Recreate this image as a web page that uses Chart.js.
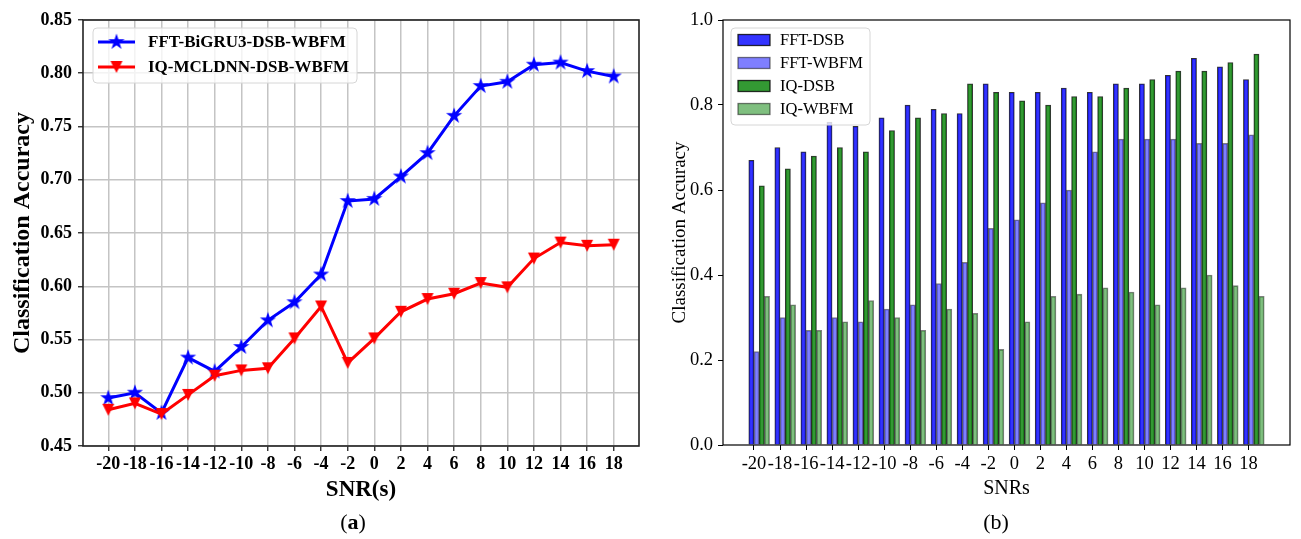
<!DOCTYPE html>
<html>
<head>
<meta charset="utf-8">
<script src="https://cdn.jsdelivr.net/npm/chart.js@4.4.1/dist/chart.umd.min.js"></script>
<style>
  html, body { margin: 0; padding: 0; background: #fff; }
  body { width: 1301px; height: 539px; position: relative; overflow: hidden; }
  .panel { position: absolute; top: 0; height: 539px; }
  #left { left: 0; width: 650px; }
  #right { left: 650px; width: 651px; }
  .caption { position: absolute; top: 509px; font: 22px "Liberation Serif", serif; transform: translateX(-50%); color: #000; }
</style>
</head>
<body>
<div class="panel" id="left"><canvas id="lineChart" width="650" height="539"></canvas></div>
<div class="panel" id="right"><canvas id="barChart" width="651" height="539"></canvas></div>
<div class="caption" style="left:353px">(<b>a</b>)</div>
<div class="caption" style="left:996px">(b)</div>
<script>
const snrs = [-20, -18, -16, -14, -12, -10, -8, -6, -4, -2, 0, 2, 4, 6, 8, 10, 12, 14, 16, 18];

// panel (a)
const fftBigru = [0.495, 0.500, 0.481, 0.533, 0.520, 0.543, 0.568, 0.585, 0.611, 0.680,
                  0.682, 0.703, 0.725, 0.760, 0.788, 0.792, 0.808, 0.810, 0.802, 0.797];
const iqMcldnn = [0.484, 0.490, 0.480, 0.498, 0.516, 0.521, 0.523, 0.551, 0.581, 0.528,
                  0.551, 0.576, 0.588, 0.593, 0.603, 0.599, 0.626, 0.641, 0.638, 0.639];
const lineYTicks = [0.45, 0.50, 0.55, 0.60, 0.65, 0.70, 0.75, 0.80, 0.85];

// panel (b)
const fftDsb  = [0.67, 0.70, 0.69, 0.76, 0.75, 0.77, 0.80, 0.79, 0.78, 0.85,
                 0.83, 0.83, 0.84, 0.83, 0.85, 0.85, 0.87, 0.91, 0.89, 0.86];
const fftWbfm = [0.22, 0.30, 0.27, 0.30, 0.29, 0.32, 0.33, 0.38, 0.43, 0.51,
                 0.53, 0.57, 0.60, 0.69, 0.72, 0.72, 0.72, 0.71, 0.71, 0.73];
const iqDsb   = [0.61, 0.65, 0.68, 0.70, 0.69, 0.74, 0.77, 0.78, 0.85, 0.83,
                 0.81, 0.80, 0.82, 0.82, 0.84, 0.86, 0.88, 0.88, 0.90, 0.92];
const iqWbfm  = [0.35, 0.33, 0.27, 0.29, 0.34, 0.30, 0.27, 0.32, 0.31, 0.225,
                 0.29, 0.35, 0.355, 0.37, 0.36, 0.33, 0.37, 0.40, 0.375, 0.35];
const barYTicks = [0.0, 0.2, 0.4, 0.6, 0.8, 1.0];

const serif = "'Liberation Serif', 'Times New Roman', serif";

// matplotlib-like markers
function starMarker(color, size) {
  const c = document.createElement("canvas");
  c.width = size;
  c.height = size;
  const ctx = c.getContext("2d");
  const r = size / 2 - 0.5;
  const ri = r * 0.382;
  ctx.beginPath();
  for (let i = 0; i < 10; i++) {
    const rad = i % 2 ? ri : r;
    const a = -Math.PI / 2 + (i * Math.PI) / 5;
    const px = size / 2 + rad * Math.cos(a);
    const py = size / 2 + rad * Math.sin(a);
    if (i === 0) ctx.moveTo(px, py);
    else ctx.lineTo(px, py);
  }
  ctx.closePath();
  ctx.fillStyle = color;
  ctx.fill();
  return c;
}

function triangleDownMarker(color, size) {
  const c = document.createElement("canvas");
  c.width = size;
  c.height = size;
  const ctx = c.getContext("2d");
  const m = 1;
  ctx.beginPath();
  ctx.moveTo(m, m);
  ctx.lineTo(size - m, m);
  ctx.lineTo(size / 2, size - m);
  ctx.closePath();
  ctx.fillStyle = color;
  ctx.fill();
  return c;
}

function roundRect(ctx, x, y, w, h, r) {
  ctx.beginPath();
  ctx.moveTo(x + r, y);
  ctx.arcTo(x + w, y, x + w, y + h, r);
  ctx.arcTo(x + w, y + h, x, y + h, r);
  ctx.arcTo(x, y + h, x, y, r);
  ctx.arcTo(x, y, x + w, y, r);
  ctx.closePath();
}

function framePlugin(color, width) {
  return {
    id: "frame",
    afterDatasetsDraw(chart) {
      const { left, top, right, bottom } = chart.chartArea;
      const ctx = chart.ctx;
      ctx.save();
      ctx.strokeStyle = color;
      ctx.lineWidth = width;
      ctx.strokeRect(left, top, right - left, bottom - top);
      ctx.restore();
    },
  };
}

const lineLegend = {
  id: "lineLegend",
  afterDraw(chart) {
    const ctx = chart.ctx;
    const x0 = chart.chartArea.left + 10;
    const y0 = chart.chartArea.top + 8;
    ctx.save();
    roundRect(ctx, x0, y0, 264, 55, 4);
    ctx.fillStyle = "rgba(255,255,255,0.8)";
    ctx.fill();
    ctx.strokeStyle = "#d6d6d6";
    ctx.lineWidth = 1;
    ctx.stroke();
    chart.data.datasets.forEach((ds, i) => {
      const y = y0 + 14 + i * 25;
      ctx.strokeStyle = ds.borderColor;
      ctx.lineWidth = ds.borderWidth;
      ctx.beginPath();
      ctx.moveTo(x0 + 5, y);
      ctx.lineTo(x0 + 42, y);
      ctx.stroke();
      const img = ds.pointStyle;
      ctx.drawImage(img, x0 + 23.5 - img.width / 2, y - img.height / 2);
      ctx.fillStyle = "#000";
      ctx.font = `bold 17px ${serif}`;
      ctx.textBaseline = "middle";
      ctx.fillText(ds.label, x0 + 55, y + 1);
    });
    ctx.restore();
  },
};

const barLegend = {
  id: "barLegend",
  afterDraw(chart) {
    const ctx = chart.ctx;
    const x0 = chart.chartArea.left + 8;
    const y0 = chart.chartArea.top + 8;
    ctx.save();
    roundRect(ctx, x0, y0, 139, 97, 4);
    ctx.fillStyle = "rgba(255,255,255,0.8)";
    ctx.fill();
    ctx.strokeStyle = "#d6d6d6";
    ctx.lineWidth = 1;
    ctx.stroke();
    chart.data.datasets.forEach((ds, i) => {
      const y = y0 + 12 + i * 23;
      ctx.fillStyle = "#fff";
      ctx.fillRect(x0 + 7, y - 5.5, 32, 11);
      ctx.fillStyle = ds.backgroundColor;
      ctx.fillRect(x0 + 7, y - 5.5, 32, 11);
      ctx.strokeStyle = ds.borderColor;
      ctx.lineWidth = 1.3;
      ctx.strokeRect(x0 + 7, y - 5.5, 32, 11);
      ctx.fillStyle = "#000";
      ctx.font = `16.5px ${serif}`;
      ctx.textBaseline = "middle";
      ctx.fillText(ds.label, x0 + 49, y + 1);
    });
    ctx.restore();
  },
};

// ---------- panel (a): line chart ----------
const boldTick = { family: serif, size: 18, weight: "bold" };

new Chart(document.getElementById("lineChart"), {
  type: "line",
  data: {
    datasets: [
      {
        label: "FFT-BiGRU3-DSB-WBFM",
        data: snrs.map((x, i) => ({ x, y: fftBigru[i] })),
        borderColor: "#0000ff",
        backgroundColor: "#0000ff",
        borderWidth: 3,
        pointStyle: starMarker("#0000ff", 18),
        pointRadius: 8,
        tension: 0,
        order: 1,
      },
      {
        label: "IQ-MCLDNN-DSB-WBFM",
        data: snrs.map((x, i) => ({ x, y: iqMcldnn[i] })),
        borderColor: "#ff0000",
        backgroundColor: "#ff0000",
        borderWidth: 3,
        pointStyle: triangleDownMarker("#ff0000", 14),
        pointRadius: 7,
        tension: 0,
        order: 0,
      },
    ],
  },
  options: {
    responsive: false,
    animation: false,
    layout: { padding: { top: 20, right: 7, bottom: 31, left: 0 } },
    plugins: { legend: { display: false }, tooltip: { enabled: false } },
    scales: {
      x: {
        type: "linear",
        min: -21.9,
        max: 19.9,
        offset: false,
        afterBuildTicks: (s) => { s.ticks = snrs.map((v) => ({ value: v })); },
        afterFit: (s) => { s.height = 62; },
        ticks: {
          callback: (v) => String(v),
          font: boldTick,
          color: "#000",
          padding: 3,
          autoSkip: false,
          maxRotation: 0,
          minRotation: 0,
        },
        grid: { color: "#c4c4c4", lineWidth: 1.5, tickColor: "#222", tickLength: 5, tickWidth: 1.3, offset: false },
        border: { display: false },
        title: {
          display: true,
          text: "SNR(s)",
          color: "#000",
          font: { family: serif, size: 23, weight: "bold" },
          padding: { top: 4, bottom: 4 },
        },
      },
      y: {
        min: 0.45,
        max: 0.85,
        afterBuildTicks: (s) => { s.ticks = lineYTicks.map((v) => ({ value: v })); },
        afterFit: (s) => { s.width = 83; },
        ticks: { callback: (v) => v.toFixed(2), font: boldTick, color: "#000", padding: 6 },
        grid: { color: "#c4c4c4", lineWidth: 1.5, tickColor: "#222", tickLength: 5, tickWidth: 1.3 },
        border: { display: false },
        title: {
          display: true,
          text: "Classification Accuracy",
          color: "#000",
          font: { family: serif, size: 24, weight: "bold" },
          padding: { top: 8, bottom: 0 },
        },
      },
    },
  },
  plugins: [framePlugin("#222", 1.6), lineLegend],
});

// ---------- panel (b): grouped bars, matplotlib-style offsets ----------
const barSeries = [
  { label: "FFT-DSB", values: fftDsb, fill: "rgba(0,0,255,0.8)", edge: "rgba(0,0,0,0.8)" },
  { label: "FFT-WBFM", values: fftWbfm, fill: "rgba(0,0,255,0.5)", edge: "rgba(0,0,0,0.5)" },
  { label: "IQ-DSB", values: iqDsb, fill: "rgba(0,128,0,0.8)", edge: "rgba(0,0,0,0.8)" },
  { label: "IQ-WBFM", values: iqWbfm, fill: "rgba(0,128,0,0.5)", edge: "rgba(0,0,0,0.5)" },
];
const barWidth = 0.4;

const regFont = { family: serif, size: 18.5 };

new Chart(document.getElementById("barChart"), {
  type: "bar",
  data: {
    datasets: barSeries.map((s, k) => ({
      label: s.label,
      data: snrs.map((x, i) => ({ x: x - barWidth / 2 + k * barWidth, y: s.values[i] })),
      backgroundColor: s.fill,
      borderColor: s.edge,
      borderWidth: 1,
      grouped: false,
      barPercentage: 1,
      categoryPercentage: 1,
    })),
  },
  options: {
    responsive: false,
    animation: false,
    layout: { padding: { top: 20, right: 11, bottom: 34, left: 0 } },
    plugins: { legend: { display: false }, tooltip: { enabled: false } },
    scales: {
      x: {
        type: "linear",
        min: -22.38,
        max: 21.18,
        offset: false,
        afterBuildTicks: (s) => { s.ticks = snrs.map((v) => ({ value: v })); },
        afterFit: (s) => { s.height = 60; },
        ticks: {
          callback: (v) => String(v),
          font: regFont,
          color: "#000",
          padding: 3,
          autoSkip: false,
          maxRotation: 0,
          minRotation: 0,
        },
        grid: { display: true, drawOnChartArea: false, offset: false, tickColor: "#000", tickLength: 5, tickWidth: 1 },
        border: { display: false },
        title: { display: true, text: "SNRs", color: "#000", font: { family: serif, size: 20 }, padding: { top: 4, bottom: 4 } },
      },
      y: {
        min: 0,
        max: 1,
        afterBuildTicks: (s) => { s.ticks = barYTicks.map((v) => ({ value: v })); },
        afterFit: (s) => { s.width = 73; },
        ticks: { callback: (v) => v.toFixed(1), font: regFont, color: "#000", padding: 5 },
        grid: { display: true, drawOnChartArea: false, tickColor: "#000", tickLength: 5, tickWidth: 1 },
        border: { display: false },
        title: {
          display: true,
          text: "Classification Accuracy",
          color: "#000",
          font: { family: serif, size: 19 },
          padding: { top: 19, bottom: 0 },
        },
      },
    },
  },
  plugins: [framePlugin("#000", 1.2), barLegend],
});
</script>
</body>
</html>
